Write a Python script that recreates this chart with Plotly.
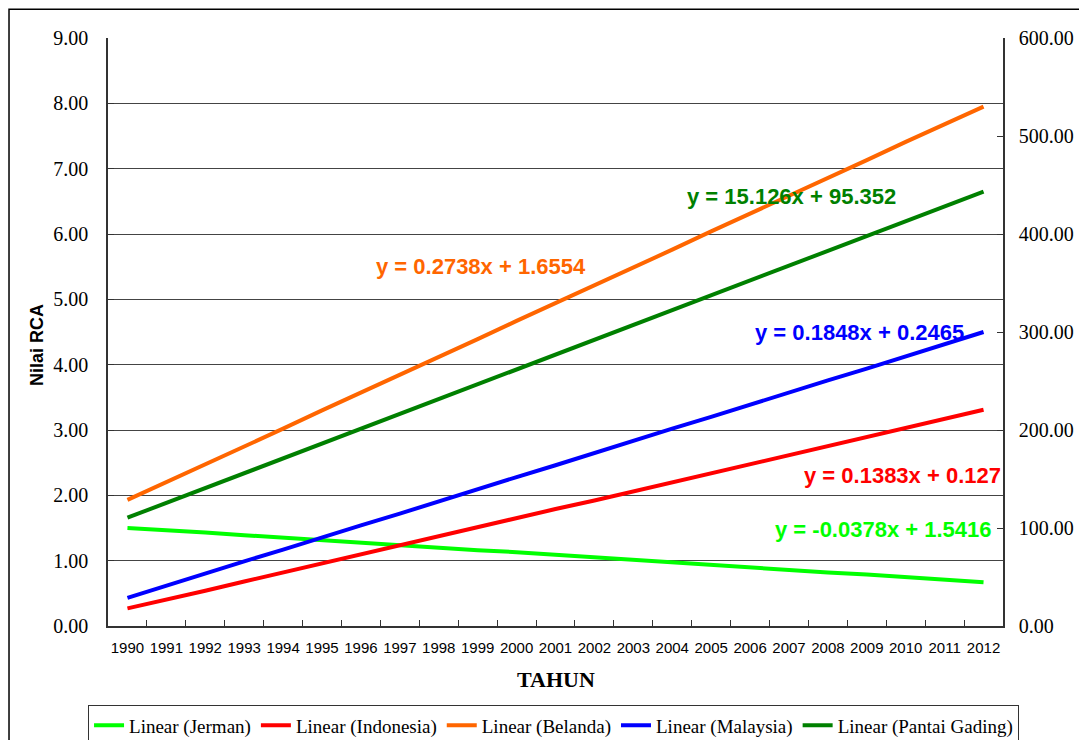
import plotly.graph_objects as go

years = [str(y) for y in range(1990, 2013)]

jerman = [1.50, 1.47, 1.43, 1.39, 1.35, 1.31, 1.28, 1.24, 1.20, 1.16, 1.13, 1.09,
          1.05, 1.01, 0.97, 0.94, 0.90, 0.86, 0.82, 0.79, 0.75, 0.71, 0.67]
indonesia = [0.27, 0.40, 0.54, 0.68, 0.82, 0.96, 1.10, 1.23, 1.37, 1.51, 1.65, 1.79,
             1.92, 2.06, 2.20, 2.34, 2.48, 2.62, 2.75, 2.89, 3.03, 3.17, 3.31]
belanda = [1.93, 2.20, 2.48, 2.75, 3.02, 3.30, 3.57, 3.85, 4.12, 4.39, 4.67, 4.94,
           5.21, 5.49, 5.76, 6.04, 6.31, 6.58, 6.86, 7.13, 7.41, 7.68, 7.95]
malaysia = [0.43, 0.62, 0.80, 0.99, 1.17, 1.36, 1.54, 1.72, 1.91, 2.09, 2.28, 2.46,
            2.65, 2.83, 3.02, 3.20, 3.39, 3.57, 3.76, 3.94, 4.13, 4.31, 4.50]
pantai_gading = [110.5, 125.6, 140.7, 155.9, 171.0, 186.1, 201.2, 216.4, 231.5, 246.6,
                 261.7, 276.9, 292.0, 307.1, 322.2, 337.4, 352.5, 367.6, 382.7, 397.9,
                 413.0, 428.1, 443.3]

series_names = ["Linear (Jerman)", "Linear (Indonesia)", "Linear (Belanda)",
                "Linear (Malaysia)", "Linear (Pantai Gading)"]
colors = ["#00FF00", "#FF0000", "#FF6600", "#0000FF", "#008000"]

equations = ["y = -0.0378x + 1.5416", "y = 0.1383x + 0.127", "y = 0.2738x + 1.6554",
             "y = 0.1848x + 0.2465", "y = 15.126x + 95.352"]
eq_pos = [(0.990, 1.47, "right"), (1.000, 2.30, "right"), (0.417, 5.50, "center"),
          (0.840, 4.49, "center"), (0.764, 6.57, "center")]

fig = go.Figure()
data = [jerman, indonesia, belanda, malaysia]
for vals, name, col in zip(data, series_names[:4], colors[:4]):
    fig.add_trace(go.Scatter(x=years, y=vals, mode="lines", name=name,
                             line=dict(color=col, width=4), yaxis="y"))
fig.add_trace(go.Scatter(x=years, y=pantai_gading, mode="lines", name=series_names[4],
                         line=dict(color=colors[4], width=4), yaxis="y2"))

for txt, col, (px, py, anc) in zip(equations, colors, eq_pos):
    fig.add_annotation(x=px, y=py, xref="paper", yref="y", text=txt, showarrow=False,
                       xanchor=anc, yanchor="middle",
                       font=dict(family="Liberation Sans, Arial", size=22, color=col,
                                 weight="bold"))

# axis titles
fig.add_annotation(x=-0.0793, y=0.478, xref="paper", yref="paper", text="<b>Nilai RCA</b>",
                   textangle=-90, showarrow=False, xanchor="center", yanchor="middle",
                   font=dict(family="Liberation Sans, Arial", size=18, color="black"))
fig.add_annotation(x=0.5006, y=-0.0918, xref="paper", yref="paper", text="<b>TAHUN</b>",
                   showarrow=False, xanchor="center", yanchor="middle",
                   font=dict(family="Liberation Serif, Times New Roman", size=22, color="black"))

# outer chart border
fig.add_shape(type="rect", xref="paper", yref="paper", x0=-0.1106, x1=1.2, y0=-0.5, y1=1.049,
              line=dict(color="#000000", width=1.5), fillcolor="rgba(0,0,0,0)", layer="below")

fig.update_layout(
    width=1079, height=732,
    margin=dict(l=100, r=84, t=30, b=114, autoexpand=False),
    paper_bgcolor="white", plot_bgcolor="white",
    font=dict(family="Liberation Serif, Times New Roman", color="black"),
    xaxis=dict(type="category", showgrid=False, showline=True, linecolor="#333333",
               linewidth=1.5, ticks="inside", tickson="boundaries", ticklen=6,
               tickcolor="#333333", tickangle=0, automargin=False,
               tickfont=dict(family="Liberation Sans, Arial", size=15),
               ticklabelstandoff=7, range=[-0.5, 22.5]),
    yaxis=dict(range=[0, 9], dtick=1, tickformat=".2f", showgrid=True,
               gridcolor="#444444", gridwidth=1, showline=True, linecolor="#333333",
               linewidth=1.5, ticks="inside", ticklen=6, tickcolor="#333333",
               tickfont=dict(size=20), zeroline=False, automargin=False,
               ticklabelstandoff=14),
    yaxis2=dict(range=[0, 600], dtick=100, tickformat=".2f", overlaying="y", side="right",
                showgrid=False, showline=True, linecolor="#333333", linewidth=1.5,
                ticks="inside", ticklen=6, tickcolor="#333333", tickfont=dict(size=20),
                zeroline=False, automargin=False, ticklabelstandoff=10),
    legend=dict(orientation="h", x=-0.0223, xanchor="left",
                y=-0.135, yanchor="top",
                bordercolor="#333333", borderwidth=1, font=dict(size=19),
                itemwidth=30, tracegroupgap=0),
    showlegend=True,
)

fig.write_html("out.html")
